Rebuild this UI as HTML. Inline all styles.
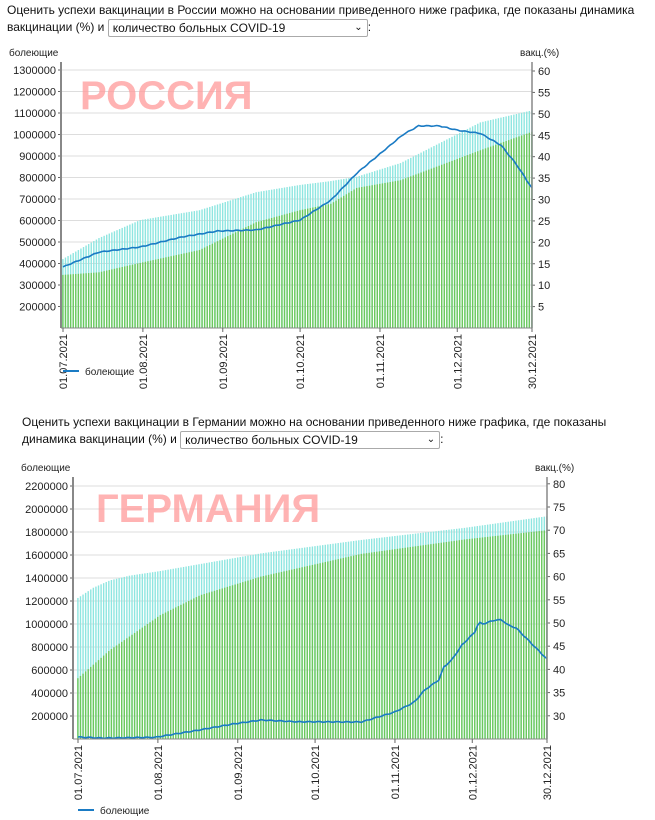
<!DOCTYPE html>
<html><head><meta charset="utf-8"><style>
body{margin:0;background:#fff;width:655px;height:820px;overflow:hidden;font-family:"Liberation Sans",sans-serif;}
.t{position:absolute;font-size:12px;color:#111;line-height:17px;white-space:nowrap}
.sel{display:inline-block;border:1px solid #aaa;border-radius:2px;padding:0 4px;height:16px;line-height:16px;vertical-align:middle}
svg{position:absolute;left:0;top:0}
</style></head><body>
<div class="t" style="left:7px;top:2px;">Оценить успехи вакцинации в России можно на основании приведенного ниже графика, где показаны динамика<br>вакцинации (%) и <span class="sel" style="width:250px">количество больных COVID-19 <span style="float:right;font-size:10px">&#8964;</span></span>:</div>
<div class="t" style="left:22px;top:414px;">Оценить успехи вакцинации в Германии можно на основании приведенного ниже графика, где показаны<br>динамика вакцинации (%) и <span class="sel" style="width:250px">количество больных COVID-19 <span style="float:right;font-size:10px">&#8964;</span></span>:</div>
<svg id="s" width="655" height="820" font-family="Liberation Sans, sans-serif"></svg>
<script>
var s=document.getElementById('s'),h='';
function interp(pts,d){for(var i=1;i<pts.length;i++){if(d<=pts[i][0]){var a=pts[i-1],b=pts[i];return a[1]+(b[1]-a[1])*(d-a[0])/(b[0]-a[0]);}}return pts[pts.length-1][1];}
function chart(c){
 var X=function(d){return c.x0+(c.x1-c.x0)*d/182;};
 var YL=function(v){return c.yb-(v-c.lmin)*c.lpx;};
 var YR=function(v){return c.yb-(v-c.rmin)*c.rpx;};
 for(var v=c.lstart;v<=c.lmax;v+=c.lstep){var y=YL(v);
  h+='<line x1="'+c.ax+'" x2="'+c.rx+'" y1="'+y+'" y2="'+y+'" stroke="#ddd"/>';
  h+='<text x="'+(c.ax-5)+'" y="'+(y+4)+'" font-size="11" text-anchor="end" fill="#222">'+v+'</text><line x1="'+(c.ax-3)+'" x2="'+c.ax+'" y1="'+y+'" y2="'+y+'" stroke="#666"/>';}
 for(var v=c.rstart;v<=c.rmax;v+=5){var y=YR(v);
  h+='<text x="'+(c.rx+6)+'" y="'+(y+4)+'" font-size="11" fill="#222">'+v+'</text><line x1="'+c.rx+'" x2="'+(c.rx+3)+'" y1="'+y+'" y2="'+y+'" stroke="#666"/>';}
 for(var d=0;d<=182;d++){var x=X(d);
  var cy=YR(interp(c.cy,d)),gy=YR(interp(c.gr,d));
  h+='<rect x="'+(x-0.8)+'" y="'+cy+'" width="1.4" height="'+(c.yb-cy)+'" fill="#8ee6e0"/>';
  h+='<rect x="'+(x-0.8)+'" y="'+gy+'" width="1.4" height="'+(c.yb-gy)+'" fill="#6cc85c"/>';}
 var p='';for(var d=0;d<=182;d++){p+=(d?'L':'M')+X(d).toFixed(1)+','+YL(interp(c.ln,d)+Math.sin(d*1.7)*c.jit).toFixed(1);}
 h+='<path d="'+p+'" fill="none" stroke="#1a7bc4" stroke-width="1.6"/>';
 h+='<line x1="'+c.ax+'" x2="'+c.ax+'" y1="'+c.ytop+'" y2="'+c.yb+'" stroke="#888" stroke-width="2"/>';
 h+='<line x1="'+c.rx+'" x2="'+c.rx+'" y1="'+c.ytop+'" y2="'+c.yb+'" stroke="#888" stroke-width="1.5"/>';
 h+='<line x1="'+c.ax+'" x2="'+c.rx+'" y1="'+c.yb+'" y2="'+c.yb+'" stroke="#888"/>';
 h+='<text x="'+(c.ax-52)+'" y="'+(c.ytop-6)+'" font-size="10" fill="#222">болеющие</text>';
 h+='<text x="'+(c.rx-12)+'" y="'+(c.ytop-6)+'" font-size="10" fill="#222">вакц.(%)</text>';
 var labs=[[0,'01.07.2021'],[31,'01.08.2021'],[62,'01.09.2021'],[92,'01.10.2021'],[123,'01.11.2021'],[153,'01.12.2021'],[182,'30.12.2021']];
 labs.forEach(function(l){var x=X(l[0]);h+='<line x1="'+x+'" x2="'+x+'" y1="'+c.yb+'" y2="'+(c.yb+4)+'" stroke="#666"/>';
  h+='<text transform="translate('+(x+4)+','+(c.yb+6)+') rotate(-90)" font-size="11" text-anchor="end" fill="#222">'+l[1]+'</text>';});
 h+='<line x1="'+(c.x0)+'" x2="'+(c.x0+16)+'" y1="'+c.leg+'" y2="'+c.leg+'" stroke="#1a7bc4" stroke-width="2"/><text x="'+(c.x0+22)+'" y="'+(c.leg+4)+'" font-size="10" fill="#222">болеющие</text>';
 h+='<text x="'+c.tx+'" y="'+c.ty+'" font-size="40" font-weight="bold" fill="#ff9a9a" fill-opacity="0.75">'+c.title+'</text>';
}
chart({x0:63,x1:532,ax:61,rx:532,yb:328,ytop:62,lmin:100000,lpx:21.5/100000,lstart:200000,lmax:1300000,lstep:100000,
 rmin:0,rpx:257/60,rstart:5,rmax:60,leg:371,tx:80,ty:109,title:'РОССИЯ',jit:2000,
 cy:[[0,16.1],[14,21],[30,25.2],[53,27.5],[75,31.7],[92,33.4],[104,34.3],[114,35.3],[131,38.5],[162,48],[182,50.8]],
 gr:[[0,12.4],[14,13],[30,15.2],[53,18.2],[75,24.7],[92,27.5],[104,29],[114,32.7],[131,34.5],[162,41.5],[182,45.8]],
 ln:[[0,384000],[14,453000],[30,477000],[46,523000],[60,551000],[75,556000],[92,602000],[104,695000],[114,820000],[120,880000],[132,1000000],[138,1040000],[146,1040000],[153,1020000],[162,1005000],[170,950000],[176,860000],[182,750000]]});
chart({x0:78,x1:547,ax:73,rx:547,yb:739,ytop:477,lmin:0,lpx:23/200000,lstart:200000,lmax:2200000,lstep:200000,
 rmin:25,rpx:23.2/5,rstart:30,rmax:80,leg:810,tx:96,ty:522,title:'ГЕРМАНИЯ',jit:4000,
 cy:[[0,55.4],[6,57.6],[12.5,59.2],[20,60.2],[32,61.2],[71,65],[110,67.9],[150,70.5],[182,73]],
 gr:[[0,38.1],[12.5,44.2],[32,51.7],[47.5,56],[71,60],[110,64.9],[150,68],[182,70]],
 ln:[[0,17000],[10,8000],[30,15000],[47,78000],[60,130000],[71,165000],[85,150000],[110,148000],[123,235000],[130.5,320000],[134.5,426000],[140,513000],[142,626000],[145,687000],[149,817000],[154,930000],[155.5,1017000],[157,1000000],[162,1035000],[164.5,1035000],[167,990000],[170,965000],[173.5,887000],[182,695000]]});
s.innerHTML=h;
</script>
</body></html>
